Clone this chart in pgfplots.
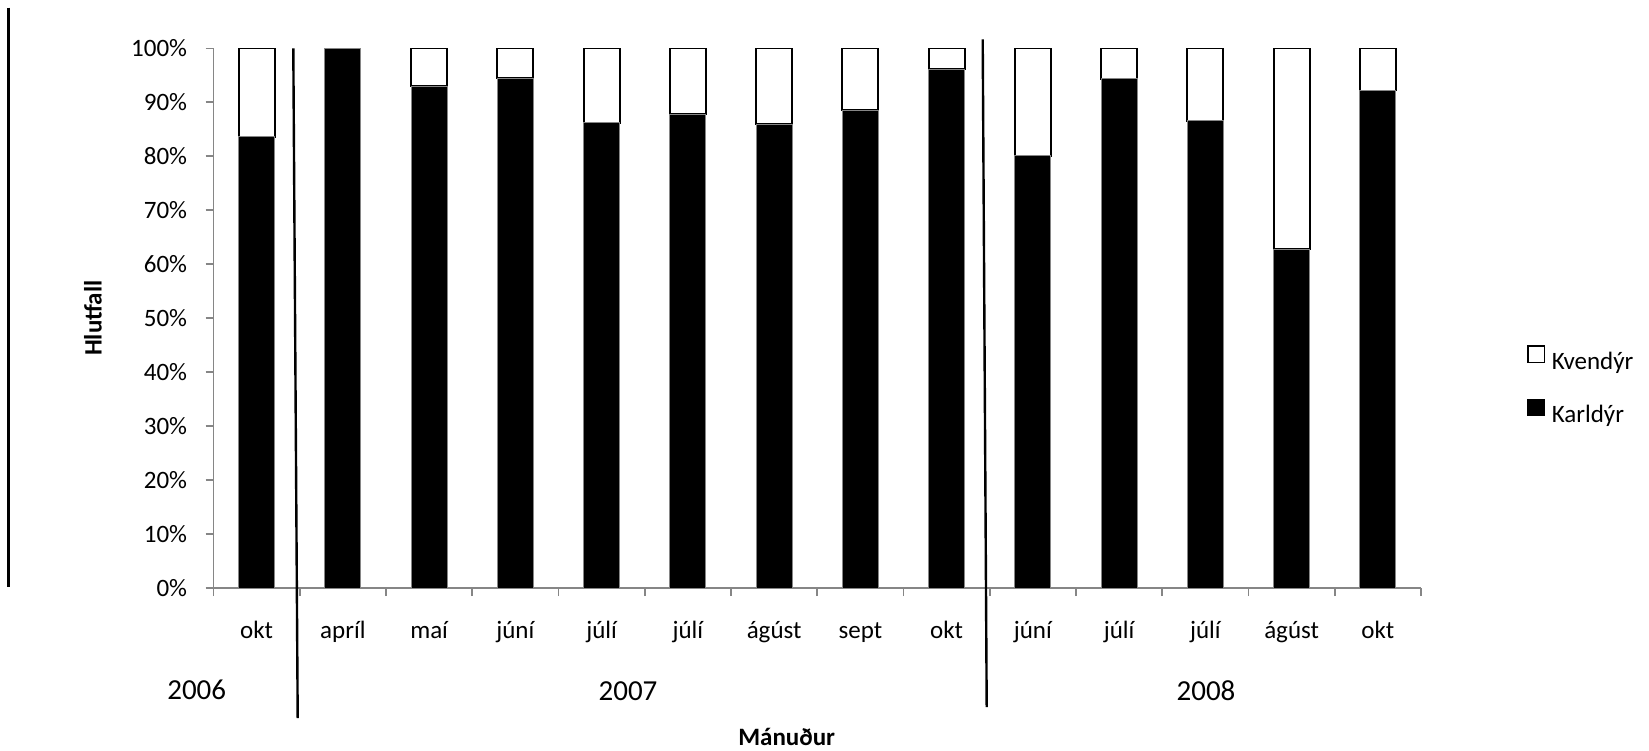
\documentclass[border=0pt]{standalone}
\usepackage{fontspec}
\setmainfont{Carlito}
\usepackage{pgfplots}
\pgfplotsset{compat=1.18}
\definecolor{axgray}{HTML}{868686}
\begin{document}
\begin{tikzpicture}
\path[use as bounding box] (0,0) rectangle (824.5pt,-375pt);
\begin{axis}[
  at={(106.75pt,-294pt)}, anchor=south west,
  scale only axis, width=603.75pt, height=269.8pt,
  ybar stacked, bar width=18pt,
  xmin=-0.5, xmax=13.5, ymin=0, ymax=100,
  axis x line*=bottom, axis y line*=left,
  axis line style={axgray, line width=0.9pt, -},
  xtick={0,...,13},
  xticklabels={okt,apríl,maí,júní,júlí,júlí,ágúst,sept,okt,júní,júlí,júlí,ágúst,okt},
  major x tick style={draw=none},
  minor xtick={-0.5,0.5,...,13.5},
  minor tick length=4pt,
  ytick={0,10,...,100},
  major tick length=4pt,
  tick align=outside,
  tick style={axgray, line width=0.9pt},
  yticklabel={\pgfmathprintnumber{\tick}\%},
  /pgf/number format/assume math mode=true,
  ticklabel style={font=\fontsize{12.5}{15}\selectfont},
  yticklabel style={anchor=east, inner sep=0pt, xshift=-9pt},
  xticklabel style={anchor=base, inner sep=0pt, yshift=-21pt},
  legend style={at={(1.0876,0.375)}, anchor=west, draw=none, fill=none,
    inner sep=0pt, font=\fontsize{12.5}{15}\selectfont, row sep=12.9pt,
    column sep=3.3pt, nodes={inner sep=0pt}},
  legend cell align=left,
  reverse legend,
  clip=false,
]
\addplot[fill=black, draw=axgray, line width=0.4pt,
  legend image code/.code={\draw[fill=black, draw=black, line width=0.5pt] (0pt,0pt) rectangle (8.3pt,8.3pt);}]
  coordinates {(0,83.6) (1,100) (2,93.0) (3,94.5) (4,86.2) (5,87.8) (6,86.0) (7,88.6) (8,96.2) (9,80.1) (10,94.4) (11,86.6) (12,62.8) (13,92.2)};
\addlegendentry{Karldýr}
\addplot[fill=white, draw=black, line width=0.9pt,
  legend image code/.code={\draw[fill=white, draw=black, line width=0.7pt] (0pt,0pt) rectangle (8.3pt,8.3pt);}]
  coordinates {(0,16.4) (1,0) (2,7.0) (3,5.5) (4,13.8) (5,12.2) (6,14.0) (7,11.4) (8,3.8) (9,19.9) (10,5.6) (11,13.4) (12,37.2) (13,7.8)};
\addlegendentry{Kvendýr}
\end{axis}
\draw[line width=1.2pt] (4.15pt,-3.85pt) -- (4.15pt,-293.5pt);
\draw[line width=1.2pt] (146.65pt,-24.2pt) -- (148.85pt,-359pt);
\draw[line width=1.2pt] (491.35pt,-19.65pt) -- (493.35pt,-353.5pt);
\node[anchor=base, inner sep=0pt, font=\fontsize{14.5}{17}\selectfont] at (98.35pt,-349.65pt) {2006};
\node[anchor=base, inner sep=0pt, font=\fontsize{14.5}{17}\selectfont] at (314pt,-350pt) {2007};
\node[anchor=base, inner sep=0pt, font=\fontsize{14.5}{17}\selectfont] at (603pt,-350pt) {2008};
\node[anchor=base, inner sep=0pt, font=\bfseries\fontsize{12.5}{15}\selectfont] at (393.35pt,-372.5pt) {Mánuður};
\node[anchor=base, rotate=90, inner sep=0pt, font=\bfseries\fontsize{12.5}{15}\selectfont] at (50.85pt,-159.1pt) {Hlutfall};
\end{tikzpicture}
\end{document}
